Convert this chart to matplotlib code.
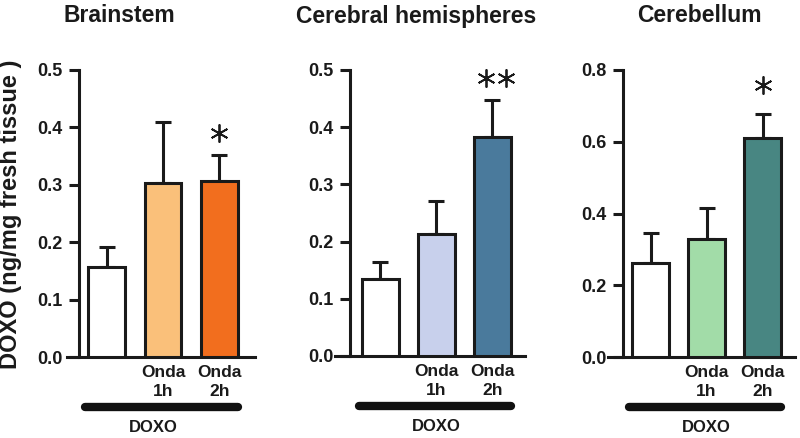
import matplotlib
matplotlib.use("Agg")
import matplotlib.pyplot as plt
import numpy as np

plt.rcParams['font.family'] = ['Liberation Sans', 'DejaVu Sans']
plt.rcParams['font.weight'] = 'bold'

# ---- data ----
titles = ["Brainstem", "Cerebral hemispheres", "Cerebellum"]
xlabels = ["", "Onda\n1h", "Onda\n2h"]
brainstem_mean = [0.157, 0.303, 0.307]
brainstem_err = [0.035, 0.107, 0.045]
cerebral_mean = [0.135, 0.213, 0.383]
cerebral_err = [0.030, 0.058, 0.065]
cerebellum_mean = [0.262, 0.329, 0.610]
cerebellum_err = [0.083, 0.086, 0.067]
ylims = [0.5, 0.5, 0.8]
yticks = [[0.0, 0.1, 0.2, 0.3, 0.4, 0.5],
          [0.0, 0.1, 0.2, 0.3, 0.4, 0.5],
          [0.0, 0.2, 0.4, 0.6, 0.8]]
stars = ["*", "**", "*"]
star_y = [0.39, 0.486, 0.758]
group_label = "DOXO"
ylabel = "DOXO (ng/mg fresh tissue )"

colors = [["#FFFFFF", "#FAC07A", "#F26E1E"],
          ["#FFFFFF", "#C8D0EC", "#4A7A9C"],
          ["#FFFFFF", "#A2DCA8", "#488682"]]

means = [brainstem_mean, cerebral_mean, cerebellum_mean]
errs = [brainstem_err, cerebral_err, cerebellum_err]

W, H = 800, 438
fig = plt.figure(figsize=(8, 4.38), dpi=100)

# axes placement in pixels: (left, right, bottom_y, top_y), spine x position in data, xlim
boxes = [(67, 255, 357, 70), (335, 525, 356, 70), (608, 795, 357, 70)]
spine_x = [-0.49, -0.545, -0.49]
xlims = [(-0.70, 2.63), (-0.81, 2.58), (-0.76, 2.58)]
title_x = [119, 416, 699]
group_text_x = [0.82, 1.0, 1.0]
ink = "#1a1a1a"

for i in range(3):
    l, r, b, t = boxes[i]
    ax = fig.add_axes([l / W, 1 - b / H, (r - l) / W, (b - t) / H])
    x = np.arange(3)
    ax.bar(x, means[i], width=0.65, color=colors[i], edgecolor=ink,
           linewidth=2.2, zorder=3)
    ax.errorbar(x, means[i], yerr=[np.zeros(3), errs[i]], fmt='none',
                ecolor=ink, elinewidth=2.2, capsize=6, capthick=2.2, zorder=2)
    ax.set_xlim(*xlims[i])
    ax.set_ylim(0, ylims[i])
    ax.set_yticks(yticks[i])
    ax.set_yticklabels([f"{v:.1f}" for v in yticks[i]])
    ax.set_xticks(x)
    ax.set_xticklabels(xlabels, linespacing=1.3)
    ax.tick_params(axis='x', length=0, pad=6, labelsize=12.5, labelcolor=ink)
    ax.tick_params(axis='y', length=7, width=2.2, color=ink, pad=5,
                   labelsize=13, labelcolor=ink)
    for lab in ax.get_xticklabels() + ax.get_yticklabels():
        lab.set_fontweight('bold')
    for s in ['top', 'right']:
        ax.spines[s].set_visible(False)
    ax.spines['left'].set_position(('data', spine_x[i]))
    ax.spines['left'].set_linewidth(2.2)
    ax.spines['bottom'].set_linewidth(2.2)
    ax.spines['left'].set_color(ink)
    ax.spines['bottom'].set_color(ink)
    ax.patch.set_alpha(0)

    # significance asterisks
    if stars[i] == "*":
        sx = [2.0]
    else:
        sx = [1.88, 2.24]
    ax.plot(sx, [star_y[i]] * len(sx), linestyle='none', marker=(6, 2, 0),
            markersize=13, markeredgewidth=1.3, color=ink, clip_on=False, zorder=5)

    # DOXO group bar
    trans = ax.get_xaxis_transform()
    ax.plot([-0.38, 2.33], [-0.174, -0.174], transform=trans, color="#111111",
            linewidth=6, solid_capstyle='round', clip_on=False)
    ax.text(group_text_x[i], -0.247, group_label, transform=trans, ha='center',
            va='center', fontsize=12, fontweight='bold', color=ink)

    fig.text(title_x[i] / W, 1 - 16 / H, titles[i], ha='center', va='center',
             fontsize=16.5, fontweight='bold', color=ink)

fig.text(11 / W, 1 - 214 / H, ylabel, rotation=90, ha='center', va='center',
         fontsize=17, fontweight='bold', color=ink)

fig.savefig("out.png", dpi=100)
